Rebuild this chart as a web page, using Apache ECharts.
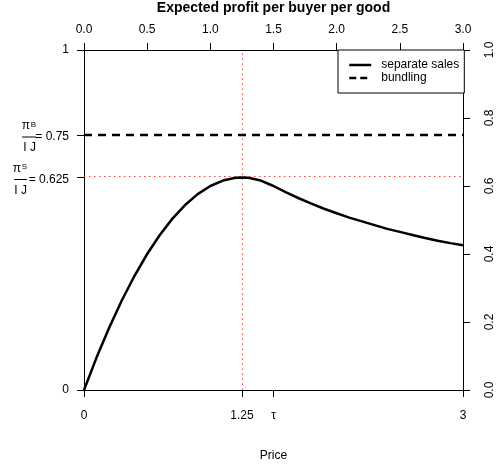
<!DOCTYPE html>
<html>
<head>
<meta charset="utf-8">
<script src="https://cdn.jsdelivr.net/npm/echarts@6/dist/echarts.min.js"></script>
<style>
html,body{margin:0;padding:0;background:#fff;}
#chart{width:498px;height:467px;}
</style>
</head>
<body>
<div id="chart"></div>
<script>
// ---- data ----
const price = [0,0.1,0.2,0.3,0.4,0.5,0.6,0.7,0.8,0.9,1.0,1.1,1.2,1.25,1.3,1.4,1.5,1.6,1.7,1.8,1.9,2.0,2.1,2.2,2.3,2.4,2.5,2.6,2.7,2.8,2.9,3.0];
const profitSeparate = [0,0.096,0.184,0.264,0.336,0.400,0.456,0.504,0.544,0.576,0.600,0.616,0.624,0.625,0.624,0.616,0.600,0.581,0.564,0.548,0.533,0.520,0.507,0.496,0.485,0.474,0.465,0.456,0.447,0.439,0.432,0.426];
const bundlingPrice = [0, 3];
const bundlingProfit = [0.75, 0.75];
const optimalPrice = 1.25;
const optimalProfitSeparate = 0.625;
const bottomTickValues = [0, 1.25, 1.5, 3];
const bottomTickLabels = ['0', '1.25', 'τ', '3'];
const leftTickValues = [0, 0.625, 0.75, 1];
const leftTickLabels = [
  '0',
  '{sp|}\n{piS|π}{supS|S}{gapS|}\n{barS|}{eqS|= 0.625}\n{denS|I J}{gapS|}',
  '{sp|}\n{piB|π}{supB|B}{gapB|}\n{barB|}{eqB|= 0.75}\n{denB|I J}{gapB|}',
  '1'
];
const seriesNames = ['separate sales', 'bundling'];
const titleText = 'Expected profit per buyer per good';
const xAxisName = 'Price';

const FONT = '"Liberation Sans", Arial, Helvetica, sans-serif';
const chart = echarts.init(document.getElementById('chart'), null, {renderer: 'canvas'});

const base = {fontFamily: FONT, fontSize: 12, color: '#000', lineHeight: 11};
const rich = {
  plain: Object.assign({}, base, {lineHeight: 14}),
  sp: {width: 1, height: 4, lineHeight: 4},
  piB: Object.assign({}, base, {width: 8, align: 'right'}),
  supB: Object.assign({}, base, {fontSize: 8, lineHeight: 8, width: 6, align: 'right', verticalAlign: 'top'}),
  gapB: {width: 33, height: 1, lineHeight: 11},
  barB: {width: 14, height: 1, backgroundColor: '#000', verticalAlign: 'middle'},
  eqB: Object.assign({}, base, {width: 33, align: 'right'}),
  denB: Object.assign({}, base, {width: 14, align: 'right'}),
  piS: Object.assign({}, base, {width: 7, align: 'right'}),
  supS: Object.assign({}, base, {fontSize: 8, lineHeight: 8, width: 6, align: 'right', verticalAlign: 'top'}),
  gapS: {width: 42, height: 1, lineHeight: 11},
  barS: {width: 13, height: 1, backgroundColor: '#000', verticalAlign: 'middle'},
  eqS: Object.assign({}, base, {width: 42, align: 'right'}),
  denS: Object.assign({}, base, {width: 13, align: 'right'})
};

const axisLine = {show: true, onZero: false, lineStyle: {color: '#000', width: 1}};
const axisTick = {show: true, length: 7, lineStyle: {color: '#000', width: 1}};
const lblStyle = {fontFamily: FONT, fontSize: 12, color: '#000'};

const option = {
  animation: false,
  backgroundColor: '#fff',
  title: {
    text: titleText,
    left: 273.5,
    textAlign: 'center',
    top: 0,
    padding: 0,
    textStyle: {fontFamily: FONT, fontSize: 14, fontWeight: 'bold', color: '#000', lineHeight: 16}
  },
  legend: {
    data: [
      {name: seriesNames[0], itemStyle: {opacity: 0}, lineStyle: {color: '#000', width: 2.5, type: 'solid'}},
      {name: seriesNames[1], itemStyle: {opacity: 0}, lineStyle: {color: '#000', width: 2.5, type: [7, 4]}}
    ],
    orient: 'vertical',
    left: 338,
    top: 50,
    padding: [9, 5, 9, 10],
    itemWidth: 22,
    itemHeight: 12,
    itemGap: 1,
    itemStyle: {opacity: 0},
    backgroundColor: '#fff',
    borderColor: '#000',
    borderWidth: 1,
    borderRadius: 0,
    textStyle: {fontFamily: FONT, fontSize: 12, color: '#000', padding: [0, 0, 0, 5]}
  },
  grid: {left: 84, right: 35, top: 50, bottom: 75, containLabel: false, show: false},
  xAxis: [
    {
      type: 'value', position: 'bottom', min: 0, max: 3,
      name: xAxisName, nameLocation: 'middle', nameGap: 60,
      nameTextStyle: {fontFamily: FONT, fontSize: 12, color: '#000'},
      axisLine: axisLine,
      axisTick: Object.assign({}, axisTick, {customValues: bottomTickValues}),
      axisLabel: Object.assign({}, lblStyle, {
        margin: 20,
        customValues: bottomTickValues,
        formatter: function (v) {
          const i = bottomTickValues.findIndex(t => Math.abs(t - v) < 1e-9);
          return i >= 0 ? bottomTickLabels[i] : '';
        }
      }),
      splitLine: {show: false}
    },
    {
      type: 'value', position: 'top', min: 0, max: 3, interval: 0.5,
      axisLine: axisLine,
      axisTick: axisTick,
      axisLabel: Object.assign({}, lblStyle, {margin: 14, formatter: v => v.toFixed(1)}),
      splitLine: {show: false}
    }
  ],
  yAxis: [
    {
      type: 'value', position: 'left', min: 0, max: 1,
      axisLine: axisLine,
      axisTick: Object.assign({}, axisTick, {customValues: leftTickValues}),
      axisLabel: Object.assign({}, lblStyle, {
        margin: 15,
        customValues: leftTickValues,
        rich: rich,
        formatter: function (v) {
          const i = leftTickValues.findIndex(t => Math.abs(t - v) < 1e-9);
          if (i < 0) return '';
          const s = leftTickLabels[i];
          return s.indexOf('{') === 0 ? s : '{plain|' + s + '}';
        }
      }),
      splitLine: {show: false}
    },
    {
      type: 'value', position: 'right', min: 0, max: 1, interval: 0.2,
      axisLine: axisLine,
      axisTick: axisTick,
      axisLabel: Object.assign({}, lblStyle, {margin: 21, rotate: 90, formatter: v => v.toFixed(1)}),
      splitLine: {show: false}
    }
  ],
  series: [
    {
      name: seriesNames[0],
      type: 'line',
      xAxisIndex: 0, yAxisIndex: 0,
      symbol: 'none',
      smooth: false,
      z: 3,
      lineStyle: {color: '#000', width: 2.5, type: 'solid'},
      itemStyle: {color: '#000'},
      data: price.map((p, i) => [p, profitSeparate[i]]),
      markLine: {
        silent: true,
        symbol: 'none',
        label: {show: false},
        z: 1,
        lineStyle: {color: '#ff3030', width: 1, type: [1.5, 3.5], opacity: 0.9},
        data: [{yAxis: optimalProfitSeparate}, {xAxis: optimalPrice}]
      }
    },
    {
      name: seriesNames[1],
      type: 'line',
      xAxisIndex: 0, yAxisIndex: 0,
      symbol: 'none',
      z: 3,
      lineStyle: {color: '#000', width: 2.5, type: [8, 6]},
      itemStyle: {color: '#000'},
      data: bundlingPrice.map((p, i) => [p, bundlingProfit[i]])
    }
  ]
};
chart.setOption(option);
</script>
</body>
</html>
